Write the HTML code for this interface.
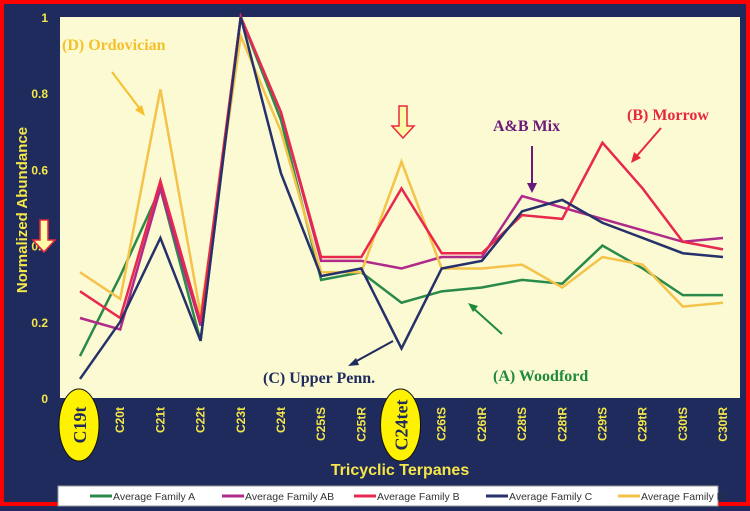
<!DOCTYPE html>
<html><head><meta charset="utf-8"><style>
body{margin:0;background:#1f2b5c;}
svg{display:block;font-family:"Liberation Sans",sans-serif;}
</style></head><body>
<svg width="750" height="511" viewBox="0 0 750 511">
<rect x="0" y="0" width="750" height="511" fill="#1f2b5c"/>
<rect x="2" y="2" width="746" height="502" fill="none" stroke="#ff0000" stroke-width="4"/>
<rect x="60" y="17" width="680" height="381" fill="#fbfad3"/>
<g id="yticks"></g>
<g id="xticks"></g>
<g id="series"></g>
<text transform="translate(27,210) rotate(-90)" text-anchor="middle" fill="#f5e64a" font-weight="bold" font-size="15">Normalized Abundance</text>
<text x="400" y="475" text-anchor="middle" fill="#f5e64a" font-weight="bold" font-size="16">Tricyclic Terpanes</text>
<g font-family="Liberation Serif,serif" font-weight="bold" font-size="16">
<text x="62" y="50" fill="#f5c02c">(D) Ordovician</text>
<text x="493" y="131" fill="#6a1a7a">A&amp;B Mix</text>
<text x="627" y="120" fill="#e8283c">(B) Morrow</text>
<text x="263" y="383" fill="#1f2b5c">(C) Upper Penn.</text>
<text x="493" y="381" fill="#1f8a3a">(A) Woodford</text>
</g>
<g stroke-width="2">
<line x1="112" y1="72" x2="143" y2="113" stroke="#f5c02c"/><polygon points="145,116 135,110 142,105" fill="#f5c02c"/>
<line x1="532" y1="146" x2="532" y2="188" stroke="#6a1a7a"/><polygon points="532,193 527,183 537,183" fill="#6a1a7a"/>
<line x1="661" y1="128" x2="635" y2="158" stroke="#e8283c"/><polygon points="631,163 634,152 641,158" fill="#e8283c"/>
<line x1="393" y1="341" x2="353" y2="363" stroke="#1f2b5c"/><polygon points="348,366 356,358 359,365" fill="#1f2b5c"/>
<line x1="502" y1="334" x2="472" y2="307" stroke="#1f8a3a"/><polygon points="468,303 478,306 473,312" fill="#1f8a3a"/>
</g>
<polygon points="40,220 48,220 48,240 55,240 44,252 33,240 40,240" fill="#fdfaa8" stroke="#e8283c" stroke-width="1.5"/>
<polygon points="399,106 407,106 407,126 414,126 403,138 392,126 399,126" fill="#fdfaa8" stroke="#e8283c" stroke-width="1.5"/>
<rect x="58" y="486" width="660" height="20" fill="#fff" stroke="#999"/>
<g id="legend"></g>
</svg>
<script>
const categories=["C19t","C20t","C21t","C22t","C23t","C24t","C25tS","C25tR","C24tet","C26tS","C26tR","C28tS","C28tR","C29tS","C29tR","C30tS","C30tR"];
const yTicks=[0,0.2,0.4,0.6,0.8,1];
const yTickLabels=["0","0.2","0.4","0.6","0.8","1"];
const famA=[0.11,0.32,0.55,0.15,1.0,0.73,0.31,0.33,0.25,0.28,0.29,0.31,0.30,0.40,0.34,0.27,0.27];
const famAB=[0.21,0.18,0.55,0.19,1.0,0.75,0.36,0.36,0.34,0.37,0.37,0.53,0.50,0.47,0.44,0.41,0.42];
const famB=[0.28,0.21,0.57,0.20,1.0,0.75,0.37,0.37,0.55,0.38,0.38,0.48,0.47,0.67,0.55,0.41,0.39];
const famC=[0.05,0.20,0.42,0.15,1.0,0.59,0.32,0.34,0.13,0.34,0.36,0.49,0.52,0.46,0.42,0.38,0.37];
const famD=[0.33,0.26,0.81,0.22,0.95,0.70,0.33,0.33,0.62,0.34,0.34,0.35,0.29,0.37,0.35,0.24,0.25];
const seriesNames=["Average Family A","Average Family AB","Average Family B","Average Family C","Average Family D"];
const NS="http://www.w3.org/2000/svg";
const X=i=>80+i*(723-80)/(categories.length-1);
const Y=v=>398-v*381;
function mk(t,a,p){const e=document.createElementNS(NS,t);for(const k in a)e.setAttribute(k,a[k]);p.appendChild(e);return e;}
const yt=document.getElementById('yticks');
yTicks.forEach((v,i)=>{const t=mk('text',{x:48,y:Y(v)+5,'text-anchor':'end',fill:'#f5e64a','font-size':12,'font-weight':'bold'},yt);t.textContent=yTickLabels[i];

});
const xt=document.getElementById('xticks');
categories.forEach((c,i)=>{const x=X(i);
if(c==="C19t"||c==="C24tet"){const el=mk('ellipse',{cx:x-1,cy:425,rx:20,ry:36,fill:'#fff200',stroke:'#111','stroke-width':1},xt);


const t=mk('text',{transform:`translate(${x+6},425) rotate(-90)`,'text-anchor':'middle',fill:'#1f2b5c','font-size':18,'font-weight':'bold','font-family':'Liberation Serif,serif'},xt);t.textContent=c;

}
else{const t=mk('text',{transform:`translate(${x+4},407) rotate(-90)`,'text-anchor':'end',fill:'#f5e64a','font-size':12,'font-weight':'bold'},xt);t.textContent=c;

}});
const sg=document.getElementById('series');
const data=[famA,famAB,famB,famC,famD];
const colors=["#2a8a4a","#b02a8a","#e8284c","#26306a","#f5c24a"];
const order=[0,1,4,2,3];
order.forEach(k=>{const p=mk('polyline',{points:data[k].map((v,i)=>X(i)+','+Y(v)).join(' '),fill:'none',stroke:colors[k],'stroke-width':2.5,'stroke-linejoin':'miter'},sg);

});
const lg=document.getElementById('legend');
seriesNames.forEach((n,i)=>{const x=90+i*132;
const l=mk('line',{x1:x,y1:496,x2:x+22,y2:496,stroke:colors[i],'stroke-width':3},lg);


const t=mk('text',{x:x+23,y:500,fill:'#333','font-size':10.5},lg);t.textContent=n;

});
</script>
</body></html>
